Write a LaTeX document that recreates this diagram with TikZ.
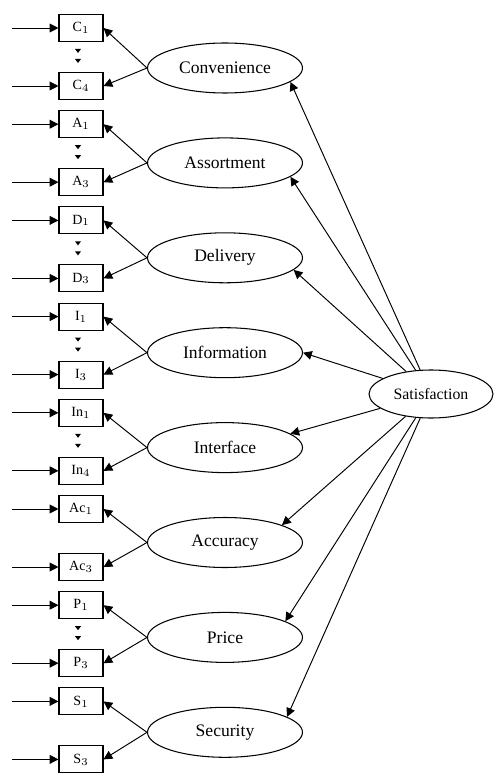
\documentclass[tikz,border=0pt]{standalone}
\usepackage{fontspec}
\setmainfont{Liberation Serif}
\usetikzlibrary{shapes.geometric,arrows.meta}
\begin{document}
\begin{tikzpicture}[x=0.02cm,y=-0.02cm,
  ind/.style={draw,line width=0.6pt,minimum width=0.88cm,minimum height=0.54cm,inner sep=0pt,font=\fontsize{8}{9}\selectfont},
  fac/.style={draw,ellipse,line width=0.6pt,minimum width=3.1cm,minimum height=1.0cm,inner sep=0pt,font=\fontsize{10}{12}\selectfont},
  satbox/.style={draw,ellipse,line width=0.6pt,minimum width=2.48cm,minimum height=0.96cm,inner sep=0pt,font=\fontsize{9}{11}\selectfont},
  arr/.style={-{Triangle[length=5pt,width=5pt]},line width=0.55pt},
  vdot/.style={fill=black}
]
\useasboundingbox (0,0) rectangle (493,773);
\node[satbox] (sat) at (431,394) {Satisfaction};
\foreach \k/\na/\nb/\lab/\ang/\dd in {
  0/C$_1$/C$_4$/Convenience/-12/1,
  1/A$_1$/A$_3$/Assortment/-12/1,
  2/D$_1$/D$_3$/Delivery/-10/1,
  3/I$_1$/I$_3$/Information/0/1,
  4/In$_1$/In$_4$/Interface/12/1,
  5/Ac$_1$/Ac$_3$/Accuracy/17/0,
  6/P$_1$/P$_3$/Price/15/1,
  7/S$_1$/S$_3$/Security/14/0}{
  \pgfmathsetmacro{\ya}{28+96.2*\k}
  \pgfmathsetmacro{\yb}{86+96.2*\k}
  \pgfmathsetmacro{\ye}{68+94.9*\k}
  \node[ind] (a\k) at (81,\ya) {\na};
  \node[ind] (b\k) at (81,\yb) {\nb};
  \node[fac] (e\k) at (225,\ye) {\lab};
  \coordinate (ia\k) at (12,\ya);
  \coordinate (ib\k) at (12,\yb);
  \draw[arr] (ia\k) -- (a\k.west);
  \draw[arr] (ib\k) -- (b\k.west);
  \draw[arr] (e\k.west) -- (a\k.east);
  \draw[arr] (e\k.west) -- (b\k.east);
  \draw[arr] (sat) -- (e\k.\ang);
  \ifnum\dd=1
    \pgfmathsetmacro{\ta}{\ya+23}
    \pgfmathsetmacro{\tb}{\ya+33}
    \fill[vdot] (75,\ta-2) -- (81,\ta-2) -- (78,\ta+2) -- cycle;
    \fill[vdot] (75,\tb-2) -- (81,\tb-2) -- (78,\tb+2) -- cycle;
  \fi
}
\end{tikzpicture}
\end{document}
